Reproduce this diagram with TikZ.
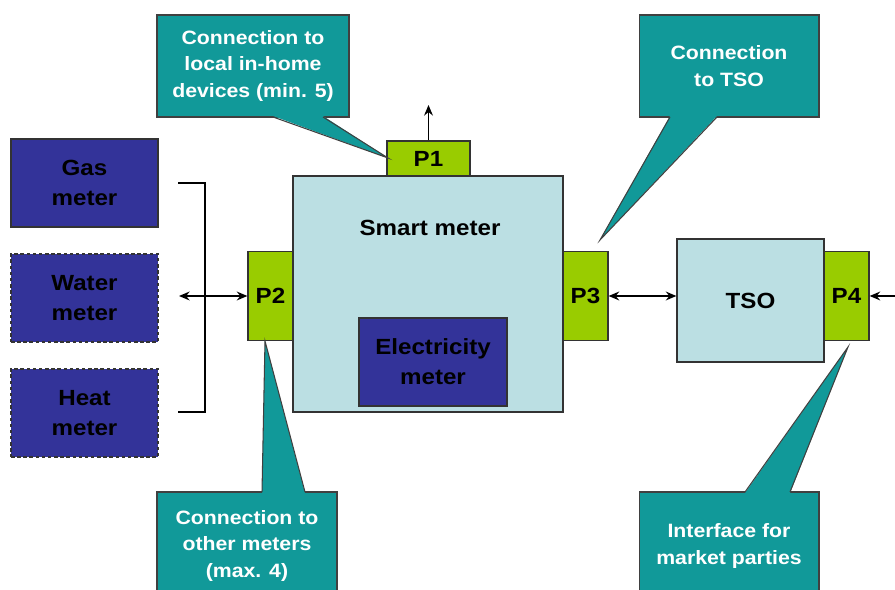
\documentclass[tikz,border=0pt]{standalone}
\usepackage{fontspec}
\setmainfont[FakeStretch=1.1]{Liberation Sans}
\usetikzlibrary{arrows.meta}

\definecolor{meterblue}{RGB}{51,51,153}
\definecolor{portgreen}{RGB}{153,204,0}
\definecolor{smartblue}{RGB}{187,223,227}
\definecolor{calloutteal}{RGB}{17,153,153}

\begin{document}
\begin{tikzpicture}[x=0.02cm, y=-0.02cm]
\tikzset{
  box/.style={draw=black!80, line width=0.7pt, inner sep=0pt, align=center,
    font=\bfseries\fontsize{12.5}{17}\selectfont},
  meter/.style={box, fill=meterblue, minimum width=2.94cm, minimum height=1.76cm},
  meterdash/.style={meter, dash pattern=on 2pt off 1.5pt},
  port/.style={box, fill=portgreen, minimum width=0.9cm, minimum height=1.78cm},
  unit/.style={box, fill=smartblue},
  callout/.style={draw=black!75, line width=0.6pt, fill=calloutteal, text=white,
    align=center, inner sep=0pt, font=\bfseries\fontsize{11}{15}\selectfont},
  link/.style={line width=1pt, {Stealth[length=6pt,width=5pt]}-{Stealth[length=6pt,width=5pt]}}
}
        \useasboundingbox (0,0) rectangle (895,590);

        % meters on the left
        \node[meter] (gas) at (84.5,183) {Gas\\meter};
        \node[meterdash] (water) at (84.5,298) {Water\\meter};
        \node[meterdash] (heat) at (84.5,413) {Heat\\meter};
        \draw[line width=1.7pt] (178,183) -- (205,183) -- (205,412) -- (178,412);

        % smart meter and its ports
        \node[unit, minimum width=5.4cm, minimum height=4.72cm] (smart) at (428,294) {};
        \node[font=\bfseries\fontsize{12.5}{17}\selectfont] (smartlbl) at (430,228) {Smart meter};
        \node[meter, minimum width=2.96cm] (elec) at (433,362) {Electricity\\meter};
        \node[port, minimum width=1.66cm, minimum height=0.7cm] (p1) at (428.5,158.5) {P1};
        \node[port] (p2) at (270.5,296) {P2};
        \node[port] (p3) at (585.5,296) {P3};

        % TSO
        \node[unit, minimum width=2.94cm, minimum height=2.46cm] (tso) at (750.5,300.5) {TSO};
        \node[port] (p4) at (846.5,296) {P4};

        % connectors
        \coordinate (bus) at (179,296);
        \coordinate (loc) at (428.5,105);
        \coordinate (mkt) at (915,296);
        \draw[link] (bus) -- (p2.west);
        \draw[line width=1pt, -{Stealth[length=6pt,width=5pt]}] (p1.north) -- (loc);
        \draw[link] (p3.east) -- (p3.east -| tso.west);
        \draw[link] (p4.east) -- (mkt);

        % callouts
        \node[callout, minimum width=3.84cm, minimum height=2.04cm] (c1) at (253,66)
            {Connection to\\local in-home\\devices (min. 5)};
        \node[callout, minimum width=3.6cm, minimum height=2.04cm] (c2) at (729,66)
            {Connection\\to TSO};
        \node[callout, minimum width=3.6cm, minimum height=2.16cm] (c3) at (247,546)
            {Connection to\\other meters\\(max. 4)};
        \node[callout, minimum width=3.6cm, minimum height=2.16cm] (c4) at (729,546)
            {Interface for\\market parties};

        \fill[calloutteal] (273,116) -- (388,158) -- (323,116) -- cycle;
        \draw[black!75, line width=0.6pt] (273,117) -- (388,158) -- (323,117);
        \fill[calloutteal] (670,116) -- (600,240) -- (717,116) -- cycle;
        \draw[black!75, line width=0.6pt] (670,117) -- (600,240) -- (717,117);
        \fill[calloutteal] (262,493) -- (265,341) -- (305,493) -- cycle;
        \draw[black!75, line width=0.6pt] (262,492) -- (265,341) -- (305,492);
        \fill[calloutteal] (745,493) -- (848,347) -- (790,493) -- cycle;
        \draw[black!75, line width=0.6pt] (745,492) -- (848,347) -- (790,492);
\end{tikzpicture}
\end{document}
